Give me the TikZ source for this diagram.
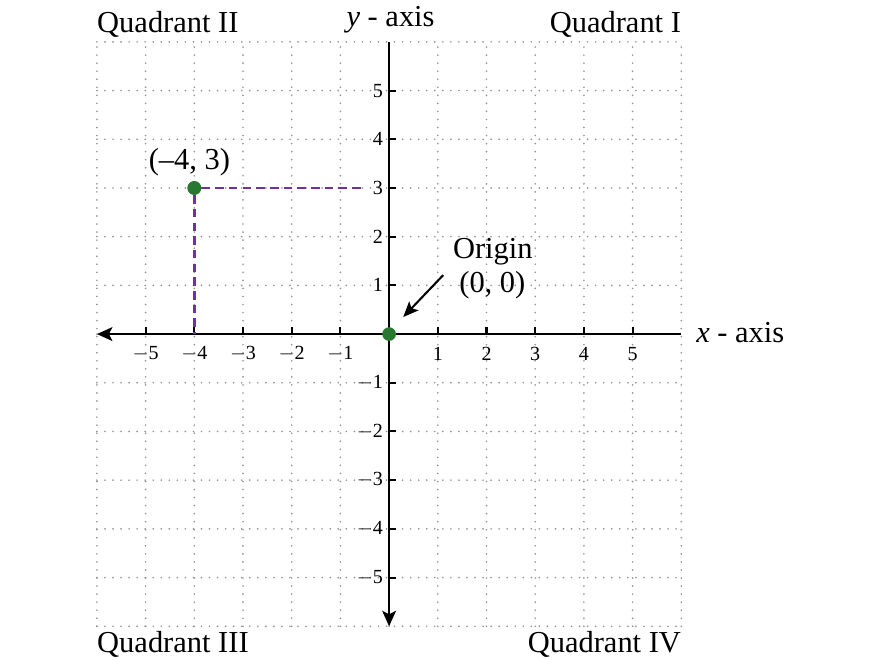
\documentclass[tikz,border=0pt]{standalone}
\usepackage{fontspec}
\setmainfont{Liberation Serif}
\usetikzlibrary{arrows.meta}
\definecolor{ptgreen}{RGB}{40,120,50}
\definecolor{ptpurple}{RGB}{112,48,160}
\definecolor{gridgray}{RGB}{150,150,150}
\begin{document}
\begin{tikzpicture}[
  gridline/.style={gridgray, line width=1.1pt, line cap=round, dash pattern=on 0pt off 4.7pt},
  axisline/.style={line width=1.4pt, -{Stealth[length=9pt,width=8pt,inset=2pt]}},
  tickmark/.style={line width=1.2pt},
  ticklab/.style={font=\fontsize{11.7}{13}\selectfont, inner sep=0pt},
  biglab/.style={font=\fontsize{17.8}{20}\selectfont, inner sep=0pt},
  dotpt/.style={circle, fill=ptgreen, minimum size=8pt, inner sep=0pt},
  guide/.style={ptpurple, line width=1.5pt, dash pattern=on 5pt off 3pt},
  pointer/.style={line width=1.2pt, -{Stealth[length=9pt,width=7.5pt,inset=2pt]}}
]
\useasboundingbox (-7.99,-6.69) rectangle (10.08,6.86);
% grid
\foreach \k in {-6,...,6} {
  \draw[gridline] (\k,-6) -- (\k,6);
  \draw[gridline] (-6,\k) -- (6,\k);
}
% axes
\coordinate (xl) at (-6,0);
\coordinate (xr) at (6,0);
\coordinate (yb) at (0,-6);
\coordinate (yt) at (0,6);
\draw[axisline, {Stealth[length=9pt,width=8pt,inset=2pt]}-] (xl) -- (xr);
\draw[axisline, {Stealth[length=9pt,width=8pt,inset=2pt]}-] (yb) -- (yt);
% ticks and labels
\foreach \i in {-5,...,-1,1,2,...,5} {
  \draw[tickmark] (\i,0) -- (\i,0.15);
  \draw[tickmark] (0,\i) -- (0.15,\i);
}
\foreach \i in {1,...,5} {
  \node[ticklab] (xp\i) at (\i,-0.4) {\i};
  \node[ticklab] (xn\i) at (-\i,-0.4) {$-$\i};
  \node[ticklab, anchor=east] (yp\i) at (-0.12,\i) {\i};
  \node[ticklab, anchor=east] (yn\i) at (-0.12,-\i) {$-$\i};
}
% dashed guides
\node[dotpt] (P) at (-4,3) {};
\coordinate (Px) at (-4,0);
\coordinate (Py) at (-0.53,3);
\draw[guide] (P) -- (Py);
\draw[guide] (P) -- (Px);
\node[dotpt] (P) at (-4,3) {};
\node[dotpt] (O) at (0,0) {};
% labels
\node[biglab, anchor=base] (Plab) at (-4.1,3.37) {(–4, 3)};
\node[biglab, anchor=base] (orig) at (2.13,1.56) {Origin};
\node[biglab, anchor=base] (orig2) at (2.12,0.86) {(0, 0)};
\coordinate (arrS) at (1.11,1.21);
\coordinate (arrT) at (0.29,0.35);
\draw[pointer] (arrS) -- (arrT);
\node[biglab, anchor=base west] (xlab) at (6.30,-0.17) {\textit{x} - axis};
\node[biglab, anchor=base] (ylab) at (0.03,6.32) {\textit{y} - axis};
\node[biglab, anchor=base west] (q2) at (-6,6.2) {Quadrant II};
\node[biglab, anchor=base east] (q1) at (6,6.2) {Quadrant I};
\node[biglab, anchor=base west] (q3) at (-6,-6.53) {Quadrant III};
\node[biglab, anchor=base east] (q4) at (6,-6.53) {Quadrant IV};
\end{tikzpicture}
\end{document}
